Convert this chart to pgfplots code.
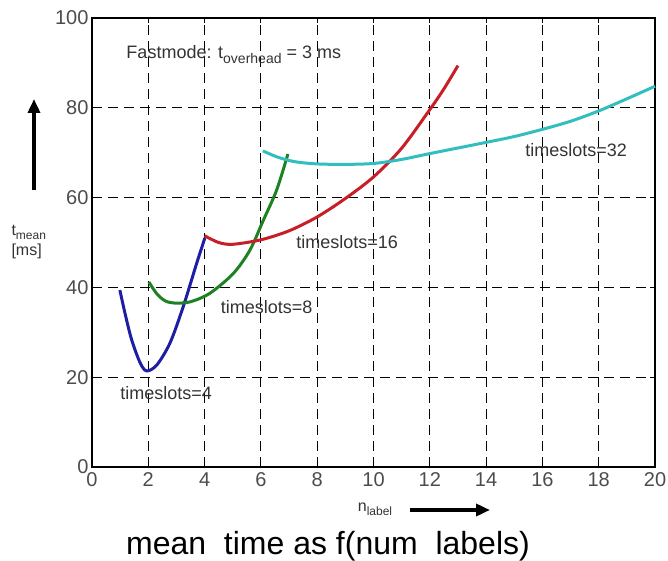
\documentclass[border=0pt]{standalone}
\usepackage{pgfplots}
\pgfplotsset{compat=1.18}
\usepackage{fontspec}
\setmainfont{Liberation Sans}
\usetikzlibrary{arrows.meta}

\definecolor{cblue}{RGB}{30,30,165}
\definecolor{cgreen}{RGB}{30,130,35}
\definecolor{cred}{RGB}{200,30,40}
\definecolor{ccyan}{RGB}{50,190,190}

\newcommand{\sub}[1]{\raisebox{-5pt}{\fontsize{14}{15}\selectfont #1}}

\begin{document}
\begin{tikzpicture}[x=1pt,y=1pt]
\useasboundingbox (-92,-94) rectangle (576,467);
\begin{axis}[
    at={(0,0)}, anchor=south west,
    scale only axis, width=563pt, height=449pt,
    xmin=0, xmax=20, ymin=0, ymax=100,
    xtick={0,2,...,20}, ytick={0,20,...,100},
    grid=major,
    major grid style={black, line width=1.1pt, dash pattern=on 10pt off 6pt},
    axis line style={line width=1.6pt},
    tick align=inside, major tick length=5pt,
    tick style={black, line width=1pt},
    tick label style={font=\fontsize{20}{21}\selectfont, text=black!70},
    xticklabel style={yshift=-2pt},
    /pgf/number format/assume math mode=true,
    clip=false,
]
% timeslots=4
\addplot[cblue, line width=3pt, smooth] coordinates {
  (0.99,39.4)(1.17,34.3)(1.41,28.3)(1.71,23.2)(1.94,21.4)(2.30,22.7)
  (2.77,27.6)(3.24,35.7)(3.72,45.4)(4.01,51.0)
};
% timeslots=8
\addplot[cgreen, line width=3pt, smooth] coordinates {
  (2.02,41.2)(2.3,38.6)(2.6,37.0)(2.95,36.5)(3.5,36.8)(4.19,38.7)(5.02,43.1)
  (5.61,48.3)(6.09,55.0)(6.56,61.7)(6.96,69.7)
};
% timeslots=16
\addplot[cred, line width=3pt, smooth] coordinates {
  (4.0,51.5)(4.5,50.0)(5.0,49.6)(6.0,50.6)(7.0,52.6)(8.0,55.7)
  (9.0,59.8)(10.0,64.6)(11.0,71.0)(12.0,79.6)(12.5,84.2)(13.0,89.4)
};
% timeslots=32
\addplot[ccyan, line width=3pt, smooth] coordinates {
  (6.07,70.4)(6.6,69.0)(7.2,68.0)(8.0,67.5)(9.0,67.4)(10.0,67.6)(11.0,68.5)
  (12,69.8)(14,72.3)(15,73.6)(16,75.2)(17,77.0)(18,79.3)(19,82.0)(20,84.8)
};
\node[anchor=west, font=\fontsize{18}{19}\selectfont, text=black!80]
  at (axis cs:1.1,91.8) {Fastmode: t\sub{overhead} = 3 ms};
\node[font=\fontsize{18}{19}\selectfont, text=black!80] at (axis cs:2.63,16.5) {timeslots=4};
\node[font=\fontsize{18}{19}\selectfont, text=black!80] at (axis cs:6.2,35.6) {timeslots=8};
\node[font=\fontsize{18}{19}\selectfont, text=black!80] at (axis cs:9.06,50.1) {timeslots=16};
\node[font=\fontsize{18}{19}\selectfont, text=black!80] at (axis cs:17.2,70.6) {timeslots=32};
\end{axis}
% y label and arrow
\node[anchor=west, font=\fontsize{16}{20}\selectfont, align=left, text=black!80]
  at (-84,225) {t\raisebox{-4pt}{\fontsize{12}{13}\selectfont mean}\\{}[ms]};
\draw[line width=3.5pt, -{Triangle[length=14pt,width=12pt]}] (-58,277) -- (-58,368);
% x label and arrow
\node[font=\fontsize{16}{18}\selectfont, text=black!80] at (283,-42)
  {n\raisebox{-4pt}{\fontsize{12}{13}\selectfont label}};
\draw[line width=3.5pt, -{Triangle[length=14pt,width=12pt]}] (318,-43) -- (398,-43);
% caption
\node[font=\fontsize{32}{34}\selectfont] at (236,-79) {mean\ \ time as f(num\ \ labels)};
\end{tikzpicture}
\end{document}
